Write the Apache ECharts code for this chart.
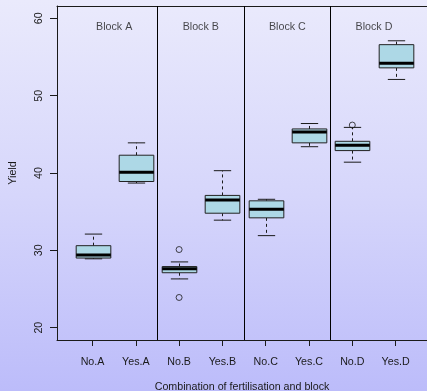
<!DOCTYPE html>
<html>
<head>
<meta charset="utf-8">
<script src="https://cdn.jsdelivr.net/npm/echarts@6/dist/echarts.min.js"></script>
<style>
  html, body { margin: 0; padding: 0; }
  #chart {
    width: 427px; height: 391px;
    background: linear-gradient(to bottom, #EAEAFC 0%, #D6D6FB 50%, #BCBCFA 100%);
  }
</style>
</head>
<body>
<div id="chart"></div>
<script>
// Yield by fertilisation (No / Yes) within each block
const categories = ['No.A', 'Yes.A', 'No.B', 'Yes.B', 'No.C', 'Yes.C', 'No.D', 'Yes.D'];
const whiskerLow    = [28.9, 38.7, 26.3, 33.9, 31.9, 43.4, 41.4, 52.1];
const lowerQuartile = [29.0, 38.9, 27.1, 34.8, 34.2, 43.9, 42.9, 53.6];
const medians       = [29.4, 40.1, 27.6, 36.5, 35.3, 45.3, 43.6, 54.2];
const upperQuartile = [30.6, 42.3, 27.9, 37.1, 36.4, 45.7, 44.1, 56.6];
const whiskerHigh   = [32.1, 43.9, 28.5, 40.3, 36.6, 46.4, 45.9, 57.1];
const outlierGroups = ['No.B', 'No.B', 'No.D'];
const outlierValues = [30.1, 23.9, 46.2];
const blocks = ['Block A', 'Block B', 'Block C', 'Block D'];
const yTicks = [20, 30, 40, 50, 60];

const FONT = 'Liberation Sans, Arial, Helvetica, sans-serif';
const FS = 10.7;
const INK = '#1a1a1a';

const positions = categories.map((_, i) => i + 1);
const boxData = categories.map((_, i) => [
  i + 1, whiskerLow[i], lowerQuartile[i], medians[i], upperQuartile[i], whiskerHigh[i]
]);
const outlierData = outlierGroups.map((g, i) => [categories.indexOf(g) + 1, outlierValues[i]]);
const separators = blocks.slice(1).map((_, i) => ({ xAxis: 2 * (i + 1) + 0.5 }));
const blockLabelData = blocks.map((b, i) => [2 * i + 1.5, 58.9, b]);

function renderBox(params, api) {
  const x = api.value(0);
  const lo = api.coord([x, api.value(1)]);
  const q1 = api.coord([x, api.value(2)]);
  const md = api.coord([x, api.value(3)]);
  const q3 = api.coord([x, api.value(4)]);
  const hi = api.coord([x, api.value(5)]);
  const boxW = api.size([0.8, 0])[0];
  const capW = api.size([0.4, 0])[0];
  const cx = Math.round(lo[0]) + 0.5;
  const dash = { stroke: INK, lineWidth: 1, lineDash: [3, 3] };
  const solid = { stroke: INK, lineWidth: 1 };
  return {
    type: 'group',
    children: [
      { type: 'line', shape: { x1: cx, y1: q3[1], x2: cx, y2: hi[1] }, style: dash },
      { type: 'line', shape: { x1: cx, y1: q1[1], x2: cx, y2: lo[1] }, style: dash },
      { type: 'line', shape: { x1: cx - capW / 2, y1: hi[1], x2: cx + capW / 2, y2: hi[1] }, style: solid },
      { type: 'line', shape: { x1: cx - capW / 2, y1: lo[1], x2: cx + capW / 2, y2: lo[1] }, style: solid },
      { type: 'rect', shape: { x: cx - boxW / 2, y: q3[1], width: boxW, height: q1[1] - q3[1] },
        style: { fill: '#ADD8E6', stroke: '#222', lineWidth: 1 } },
      { type: 'line', shape: { x1: cx - boxW / 2, y1: md[1], x2: cx + boxW / 2, y2: md[1] },
        style: { stroke: '#000', lineWidth: 3 } }
    ]
  };
}

const chart = echarts.init(document.getElementById('chart'), null, { renderer: 'canvas' });
chart.setOption({
  backgroundColor: 'transparent',
  animation: false,
  grid: { left: 57, right: 0, top: 6, bottom: 51, outerBoundsMode: 'none', containLabel: false },
  xAxis: [
    {
      type: 'value', position: 'bottom', min: 0.18, max: 8.725,
      axisLine: { show: true, lineStyle: { color: INK, width: 1 } },
      axisTick: { show: true, customValues: positions, length: 6, lineStyle: { color: INK } },
      axisLabel: {
        show: true, customValues: positions, margin: 17,
        formatter: v => categories[Math.round(v) - 1],
        color: INK, fontFamily: FONT, fontSize: FS
      },
      splitLine: { show: false },
      name: 'Combination of fertilisation and block',
      nameLocation: 'middle', nameGap: 42,
      nameTextStyle: { color: INK, fontFamily: FONT, fontSize: FS }
    },
    {
      type: 'value', position: 'top', min: 0.18, max: 8.725,
      axisLine: { show: true, lineStyle: { color: INK, width: 1 } },
      axisTick: { show: false }, axisLabel: { show: false }, splitLine: { show: false }
    }
  ],
  yAxis: {
    type: 'value', min: 18.4, max: 61.6,
    axisLine: { show: true, lineStyle: { color: INK, width: 1 } },
    axisTick: { show: true, customValues: yTicks, length: 7, lineStyle: { color: INK } },
    axisLabel: {
      show: true, customValues: yTicks, rotate: 90, margin: 12,
      color: INK, fontFamily: FONT, fontSize: FS
    },
    splitLine: { show: false },
    name: 'Yield', nameLocation: 'middle', nameGap: 38, nameRotate: 90,
    nameTextStyle: { color: INK, fontFamily: FONT, fontSize: FS }
  },
  series: [
    {
      type: 'custom',
      renderItem: renderBox,
      data: boxData,
      encode: { x: 0, y: [1, 2, 3, 4, 5] },
      markLine: {
        silent: true, symbol: 'none',
        label: { show: false },
        lineStyle: { color: '#000', type: 'solid', width: 1 },
        data: separators
      },
      z: 3
    },
    {
      type: 'scatter',
      data: outlierData,
      symbol: 'circle', symbolSize: 6,
      itemStyle: { color: 'transparent', borderColor: INK, borderWidth: 1 },
      z: 4
    },
    {
      type: 'scatter',
      data: blockLabelData,
      symbolSize: 0,
      label: {
        show: true, position: 'inside',
        formatter: p => p.value[2],
        color: INK, fontFamily: FONT, fontSize: FS
      },
      z: 4
    }
  ]
});
</script>
</body>
</html>
